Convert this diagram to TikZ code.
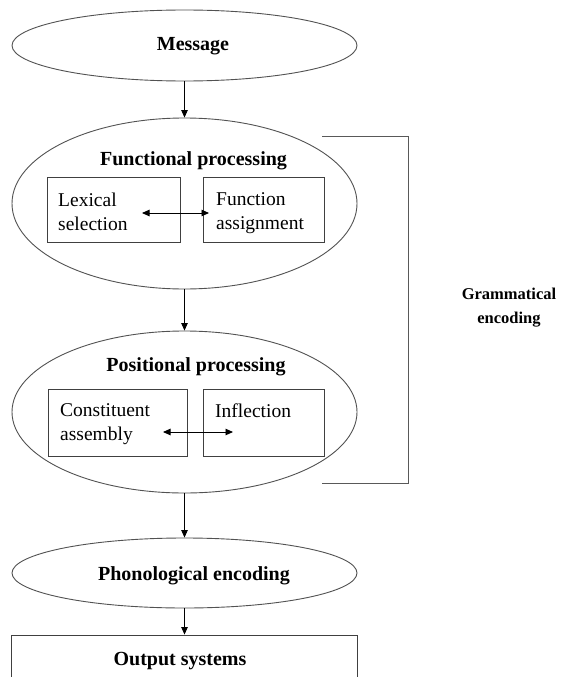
\documentclass[tikz,border=0pt]{standalone}
\usepackage{fontspec}
\setmainfont{Liberation Serif}
\usetikzlibrary{shapes.geometric,arrows.meta}
\begin{document}
\begin{tikzpicture}[x=1pt,y=-1pt,
  stage/.style={ellipse,draw=black!68,line width=0.9pt,minimum width=345pt,minimum height=#1,inner sep=0pt},
  unitbox/.style={rectangle,draw=black!75,line width=0.9pt,inner sep=0pt},
  headtext/.style={inner sep=0pt,font=\fontsize{20}{24}\selectfont\bfseries},
  boxtext/.style={inner sep=0pt,align=left,anchor=north west,font=\fontsize{19.5}{24}\selectfont},
  sidetext/.style={inner sep=0pt,align=center,anchor=north,font=\fontsize{16.5}{24}\selectfont\bfseries},
  flow/.style={draw=black,line width=0.9pt,-{Triangle[length=7.5pt,width=6.5pt]}},
  twoway/.style={draw=black,line width=0.9pt,{Triangle[length=7.5pt,width=6.5pt]}-{Triangle[length=7.5pt,width=6.5pt]}},
  bracketline/.style={draw=black!65,line width=1pt}
]
% canvas
\fill[white] (0,0) rectangle (563,677);
\useasboundingbox (0,0) rectangle (563,677);

% stages
\node[stage=71pt] (msg) at (184.5,45.5) {};
\node[stage=171pt] (fp) at (184.5,203.5) {};
\node[stage=162pt] (pp) at (184.5,412) {};
\node[stage=70pt] (phon) at (184.5,573) {};
\node[unitbox,minimum width=346pt,minimum height=60pt] (out) at (184.5,665) {};

% stage headings
\node[headtext,anchor=base] (msgt) at (193,51) {Message};
\node[headtext,anchor=base] (fpt) at (193.5,165) {Functional processing};
\node[headtext,anchor=base] (ppt) at (196,371) {Positional processing};
\node[headtext,anchor=base] (phont) at (194,580) {Phonological encoding};
\node[headtext,anchor=base] (outt) at (180,665) {Output systems};

% functional processing components
\node[unitbox,minimum width=133pt,minimum height=65pt] (lex) at (113.5,209.5) {};
\node[unitbox,minimum width=121pt,minimum height=65pt] (fas) at (263.5,209.5) {};
\node[boxtext] (lext) at (58,192.7) {Lexical\\selection};
\node[boxtext] (fast) at (216,192.7) {Function\\assignment};

% positional processing components
\node[unitbox,minimum width=139pt,minimum height=67pt] (con) at (117.5,422.5) {};
\node[unitbox,minimum width=121pt,minimum height=67pt] (inf) at (263.5,422.5) {};
\node[boxtext] (cont) at (60,403.7) {Constituent\\assembly};
\node[boxtext] (inft) at (215,403.7) {Inflection};

% two-way links inside the stages
\coordinate (lfA) at (142,213);
\coordinate (lfB) at (209,213);
\coordinate (ciA) at (163,432);
\coordinate (ciB) at (233,432);
\draw[twoway] (lfA) -- (lfB);
\draw[twoway] (ciA) -- (ciB);

% main flow
\draw[flow] (msg) -- (fp);
\draw[flow] (fp) -- (pp);
\draw[flow] (pp) -- (phon);
\draw[flow] (phon.south) -- (out.north);

% grammatical encoding bracket
\coordinate (bt) at (322,136);
\coordinate (bb) at (322,483);
\draw[bracketline] (bt) -- ++(86,0) |- (bb);
\node[sidetext] (gram) at (509,287.8) {Grammatical\\encoding};
\end{tikzpicture}
\end{document}
